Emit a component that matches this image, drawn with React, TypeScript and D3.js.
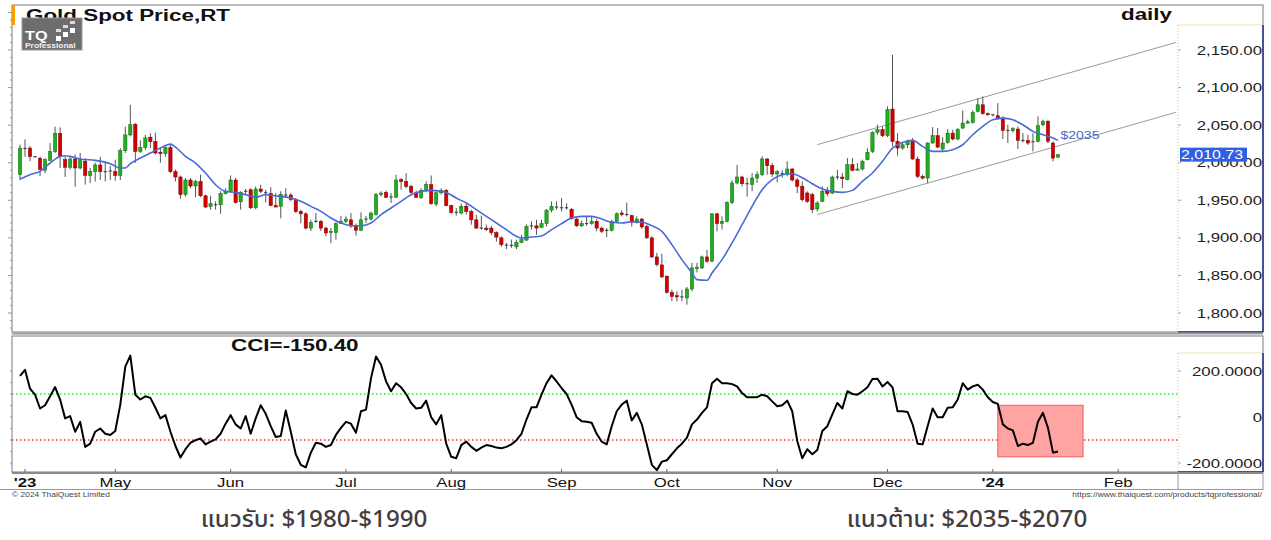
import React from 'react'
import * as d3 from 'd3'

// daily candles, Apr 2023 .. 18 Jan 2024
const opens = [
  1984, 2019, 2019.5, 2008, 2006, 1990, 2003, 2015, 2039, 2004, 1994, 2005, 1993, 2002, 1983, 1988, 1997, 1988, 1988, 1988,
  1983, 2016, 2037, 2051, 2015, 2020, 2034, 2028, 2014, 2012, 2020, 1988, 1981, 1957.5, 1977, 1969, 1975, 1956, 1941.5, 1944,
  1944, 1959, 1962, 1977, 1948, 1962, 1964, 1940, 1965, 1960, 1959, 1943, 1942, 1957, 1957, 1951, 1935, 1932, 1913, 1922,
  1922, 1913, 1907, 1907, 1919, 1922, 1924, 1916, 1910, 1924, 1925, 1931, 1957.5, 1960.5, 1954, 1954, 1977.4, 1975, 1968.5, 1960,
  1954, 1963, 1970.7, 1945, 1960, 1963, 1943, 1934, 1933, 1942, 1935, 1924, 1913, 1913, 1913, 1907, 1900, 1890.4, 1890, 1888,
  1894, 1897, 1916, 1916, 1914, 1919, 1937, 1941, 1940, 1940, 1938, 1925, 1916, 1919, 1919, 1922, 1913, 1910, 1910, 1922,
  1933, 1931, 1929.5, 1920.6, 1925, 1915, 1900, 1874.6, 1864, 1849, 1827.6, 1823, 1821.5, 1820, 1832, 1859, 1860, 1874.6, 1869, 1932,
  1919, 1922, 1947, 1973, 1981, 1972, 1971, 1979.6, 1984, 2005, 1996, 1985, 1985.4, 1985, 1991.6, 1977, 1968.5, 1959.7, 1957.4, 1938.4,
  1948.6, 1961.9, 1959.7, 1980.9, 1980.9, 1977.4, 1997.3, 1990, 1991.6, 2004, 2015.1, 2040.3, 2043.9, 2035.9, 2071.4, 2028.4, 2019.5, 2023.9, 2028.4, 2004.9,
  1981.8, 1979.6, 2026.2, 2035.9, 2018.2, 2027, 2039.4, 2031.5, 2046.1, 2052.7, 2053.6, 2068.3, 2077.1, 2065.2, 2063.8, 2062.5, 2059.4, 2043, 2042.6, 2044.8,
  2029.7, 2029.7, 2027, 2028.4, 2050.5, 2055, 2026.2, 2007.5,
]
const highs = [
  2024, 2031, 2022, 2009, 2008, 2006, 2026, 2048, 2047, 2008, 2008, 2011, 2013, 2006, 1993, 2000, 2008, 2002, 1996, 2004,
  2019.5, 2048, 2077, 2053, 2030, 2037, 2039, 2040, 2019.5, 2022, 2024, 1991, 1983, 1979.6, 1979.6, 1977, 1984, 1957.5, 1956, 1948.6,
  1962, 1966, 1983, 1979.6, 1962, 1965, 1966, 1968.5, 1970.7, 1964, 1967.6, 1959.6, 1962, 1966, 1959.6, 1953, 1937.5, 1934, 1924, 1933,
  1924, 1915, 1913, 1920.6, 1929, 1928.6, 1933, 1919, 1934, 1929, 1935, 1959.6, 1962, 1963, 1959.6, 1984, 1979.6, 1986, 1970.7, 1963,
  1966, 1975, 1983, 1962, 1966, 1965, 1944, 1939.6, 1945.5, 1946.6, 1937.5, 1930.6, 1929.5, 1917.5, 1916, 1908.7, 1902, 1893, 1897.6, 1897.6,
  1904, 1918, 1922, 1924, 1924, 1938.4, 1948.6, 1948.6, 1953, 1946, 1939.7, 1926.4, 1923, 1928.6, 1928.6, 1925, 1915, 1913, 1924, 1934,
  1936.6, 1947, 1931, 1928.6, 1926.4, 1917.5, 1902, 1880, 1879, 1850, 1831, 1828.6, 1831, 1834.7, 1866.6, 1866.6, 1876.4, 1884, 1933, 1933,
  1928.6, 1948.6, 1976.5, 1997, 1982.7, 1980, 1986, 1988.5, 2008.4, 2006, 1999.6, 1990, 1990, 2002, 1993, 1979.6, 1975.2, 1962, 1959.7, 1948.6,
  1968.5, 1967.6, 1982.7, 1990.7, 1986.3, 2006.2, 2006.2, 1999.6, 2004, 2019.5, 2041.7, 2050.5, 2048.3, 2074.9, 2143.6, 2039.4, 2026.2, 2030.6, 2032.8, 2008.4,
  1984, 2027, 2047.4, 2046.1, 2034.1, 2044.8, 2043.9, 2046.1, 2069.6, 2057.2, 2069.6, 2086, 2088.2, 2066.9, 2063.8, 2079.3, 2061.6, 2050.5, 2047.4, 2048.3,
  2039.4, 2037.2, 2039.4, 2061.6, 2057.2, 2057.2, 2028.4, 2011.5,
]
const lows = [
  1977, 2008, 2002, 2007, 1982, 1986, 2002, 2013, 1993, 1981, 1991, 1968, 1991, 1971, 1973, 1975, 1977, 1975, 1977, 1976,
  1977, 2013, 2035, 2000, 2013, 2017, 2019.5, 2010.6, 2000, 2008, 1986, 1975, 1952, 1955, 1966, 1954, 1954, 1939.7, 1937.5, 1937.5,
  1932, 1957.5, 1960, 1945.6, 1937.5, 1957.5, 1938.4, 1938, 1959.6, 1947, 1942, 1941, 1926, 1953, 1948.6, 1933, 1919.5, 1911, 1909, 1920,
  1909, 1902, 1893, 1897.6, 1918.9, 1920, 1913, 1903, 1909, 1920, 1923, 1929.5, 1955, 1953, 1946.4, 1953, 1964, 1966, 1958.7, 1953,
  1951.7, 1960.6, 1944, 1942, 1957.5, 1942, 1932, 1929.5, 1931, 1931, 1917.5, 1912, 1911, 1909, 1904, 1895, 1888, 1885, 1886.7, 1885,
  1893, 1896, 1911, 1904, 1913, 1915, 1934, 1937.5, 1935, 1937.5, 1924, 1914.5, 1914.5, 1916, 1917.5, 1908.7, 1906.5, 1901, 1908.7, 1920.6,
  1928.6, 1928.6, 1915, 1919, 1912, 1898.5, 1873, 1862, 1846.6, 1825.8, 1815.6, 1815.6, 1815.6, 1811, 1829, 1854, 1858.6, 1866.6, 1867.5, 1908.7,
  1911, 1920.6, 1945, 1971, 1968.5, 1955, 1962, 1973, 1982, 1984, 1981, 1974, 1980, 1982, 1975, 1959.6, 1948.6, 1946.4, 1933, 1935.3,
  1947.3, 1955.2, 1958.3, 1977.4, 1966.3, 1976.5, 1988.5, 1989.8, 1989.8, 2003.1, 2012.9, 2037.2, 2034.1, 2034.1, 2021.7, 2009.3, 2017.3, 2019.5, 2004, 1979.6,
  1977.4, 1973, 2025.3, 2019.5, 2015.1, 2025.3, 2029.7, 2029.7, 2044.8, 2051.9, 2051.9, 2066.9, 2063.8, 2062.5, 2061.6, 2057.2, 2031.5, 2026.2, 2040.3, 2018.2,
  2027, 2023.9, 2015.1, 2027, 2048.3, 2026.2, 2001.8, 2006,
]
const closes = [
  2019.5, 2019, 2008, 2008, 1991, 2004, 2015, 2039, 2008, 1994, 2005, 1993, 2004, 1983, 1988, 1997, 1988, 1988, 1989, 1983,
  2016, 2037, 2050.5, 2015, 2020, 2033, 2028, 2013, 2012, 2020, 1988, 1981, 1957.5, 1977, 1969, 1975, 1956, 1941, 1945.5, 1944,
  1959, 1962, 1977, 1947, 1960.5, 1962, 1940, 1965, 1962, 1959.6, 1943, 1941, 1958, 1957, 1951, 1935, 1932, 1913, 1920.6, 1922,
  1913, 1906.5, 1908.7, 1919, 1922, 1925, 1916, 1910, 1924, 1925, 1933, 1957.5, 1959.6, 1954, 1954.4, 1977, 1975, 1968.5, 1960.5, 1954,
  1963, 1970.7, 1945.5, 1960, 1963, 1943, 1934, 1934, 1942, 1935, 1924, 1913, 1913, 1911, 1907, 1901, 1891, 1889.6, 1890, 1894,
  1897.6, 1915, 1916, 1913, 1919, 1936.6, 1942, 1941, 1939.7, 1939, 1926, 1916, 1919, 1919, 1922, 1913, 1908.7, 1910, 1922, 1932,
  1931, 1931, 1920.6, 1925, 1914.5, 1900, 1874.6, 1864.4, 1848, 1827.6, 1822, 1821.4, 1821.5, 1832, 1860, 1861, 1874.6, 1869, 1932, 1919,
  1922, 1947, 1973, 1981, 1972, 1972, 1979.6, 1984, 2005, 1996, 1985, 1988, 1985.4, 1991.6, 1977, 1968.5, 1950.8, 1948.6, 1937.5, 1946.4,
  1961.9, 1958.8, 1980.9, 1980.5, 1978.7, 1997.3, 1989.8, 1991.6, 2001.8, 2013.7, 2040.3, 2043.9, 2035.9, 2070.5, 2028.4, 2019.5, 2023.9, 2028.4, 2004.9, 1981.8,
  1979.6, 2026.2, 2035.9, 2020.8, 2026.2, 2039.4, 2031.5, 2043.9, 2052.7, 2054.5, 2066.9, 2077.1, 2065.2, 2063.8, 2062.5, 2059.4, 2043, 2042.6, 2045.2, 2029.7,
  2029.3, 2026.2, 2027.9, 2049.2, 2055, 2028.4, 2006.2, 2010.73,
]

// blue moving average, read at every other bar
const maIdx = [
  0, 2, 4, 6, 8, 9, 10, 12, 15, 18, 20, 21, 22, 24, 26, 28, 30, 31, 33, 35, 37, 39, 41, 43, 45, 47, 49, 51, 54, 56,
  58, 60, 62, 64, 66, 68, 70, 72, 74, 76, 78, 80, 82, 84, 85, 87, 89, 91, 93, 95, 97, 99, 100, 102, 104, 106, 108, 110, 112, 114,
  116, 118, 120, 122, 124, 126, 128, 130, 132, 134, 135, 137, 138, 140, 142, 144, 146, 148, 150, 152, 154, 156, 158, 160, 162, 164, 166, 168, 170, 172,
  174, 176, 178, 180, 182, 184, 186, 188, 190, 192, 194, 196, 198, 200, 202, 204, 206, 207,
]
const maVal = [
  1978.3, 1984, 1988.5, 1999.6, 2008.4, 2009.3, 2008.4, 2004.9, 2003.1, 1998.7, 1992.9, 1992.9, 1998.7, 2006.2, 2012.9, 2019.5, 2024.8, 2020.8, 2008.4, 1999.6,
  1986.3, 1970.7, 1961.9, 1960.5, 1957.4, 1954.3, 1957.4, 1956, 1953, 1948.6,
  1941.9, 1935.3, 1926.4, 1919.8, 1916.2, 1916.2, 1919.8, 1930.9, 1939.7, 1948.6, 1957.4, 1961.9, 1963.2, 1961.9, 1960.5, 1953, 1946.4, 1937.5, 1928.6, 1919.8,
  1910.9, 1902, 1899.8, 1901.2, 1902.5, 1910.9, 1918.9, 1926.4, 1928.6, 1928.6,
  1925.1, 1920.7, 1919.8, 1921.5, 1920.7, 1916.2, 1908.7, 1891, 1871, 1853.3, 1844.4, 1843.5, 1853.3, 1871, 1893.2, 1917.5, 1941.9, 1964.1, 1977.4, 1984,
  1985.4, 1980, 1972, 1965, 1961.9, 1960.5, 1963.2, 1975.2, 1986.3, 2001.8,
  2019.5, 2027, 2029.7, 2021.7, 2015.1, 2015.1, 2017.3, 2023.9, 2037.2, 2048.3, 2057.2, 2059.4, 2057.2, 2050.5, 2041.7, 2037.2, 2032.8, 2029.7,
]

const cci = [
  179, 205, 123, 97, 37, 51, 90, 130, 76, -6, 4, -64, -21, -130, -116, -64, -50, -73, -78, -61,
  54, 219, 267, 97, 76, 90, 83, 40, -6, 8, -64, -126, -176, -140, -112, -101, -93, -119, -107, -97,
  -73, -29, 8, -32, -50, 4, -73, -6, 51, 14, -40, -87, -83, 28, -64, -162, -208, -219, -155, -112,
  -116, -130, -122, -78, -47, -21, -29, -68, 25, 32, 169, 263, 227, 155, 112, 147, 129, 100, 61, 37,
  40, 71, -1, -32, 8, -116, -173, -179, -122, -107, -130, -147, -133, -122, -126, -133, -136, -130, -119, -101,
  -73, -11, 42, 42, 97, 147, 181, 155, 126, 100, 54, -1, -18, -21, -25, -73, -107, -119, -40, 25,
  54, 71, -15, 18, -32, -119, -208, -231, -194, -188, -162, -136, -116, -90, -32, -11, 18, 42, 147, 166,
  147, 147, 143, 133, 104, 86, 86, 86, 97, 90, 68, 47, 51, 71, 25, -104, -179, -140, -162, -143,
  -61, -40, 11, 61, 37, 112, 100, 97, 112, 129, 165, 166, 133, 152, 129, 25, 25, 22, -32, -116,
  -119, -40, 37, -1, -1, 40, 42, 76, 147, 119, 133, 140, 119, 86, 65, 57, -32, -50, -58, -126,
  -116, -122, -112, -21, 18, -47, -155, -150.4,
]

const priceTicks = [1800, 1850, 1900, 1950, 2000, 2050, 2100, 2150]
const cciTicks = [-200, 0, 200]
const cciLevels = [100, -100]
const monthLabels = ["'23", 'May', 'Jun', 'Jul', 'Aug', 'Sep', 'Oct', 'Nov', 'Dec', "'24", 'Feb']
const monthIdx = [1, 19, 42, 65, 86, 108, 129, 151, 173, 194, 219]
const yearLabels = ["'23", "'24"]

// trend channel
const channelIdx = [159, 230.5]
const channelUpper = [2024, 2160]
const channelLower = [1931, 2067]

// highlight box on CCI
const boxIdx = [195, 212]
const boxCci = [51, -173]

const lastPrice = 2010.73
const maNote = '$2035'
const maNoteAt = { idx: 207.5, price: 2037 }

const supportNote = 'แนวรับ: $1980-$1990'
const resistNote = 'แนวต้าน: $2035-$2070'

const FONT = 'Liberation Sans, Arial, Helvetica, sans-serif'
const THAI = "'Noto Sans Thai', 'Noto Sans', sans-serif"
const SX = 1.4 // the source screenshot is stretched sideways

const T = ({ x, y, size, anchor = 'start', weight = 'normal', fill = '#111', sx = SX, family = FONT, children }: any) => (
  <text
    transform={`translate(${x},${y}) scale(${sx},1)`}
    fontFamily={family}
    fontSize={size}
    fontWeight={weight}
    fill={fill}
    textAnchor={anchor}
  >
    {children}
  </text>
)

const App = () => {
  const W = 1271
  const H = 540
  const left = 12
  const plotRight = 1178
  const right = 1263
  const mainTop = 5
  const mainBottom = 332
  const cciTop = 336
  const cciBottom = 472

  const x = d3.scaleLinear().domain([0, closes.length - 1]).range([20, 1058])
  const yP = d3.scaleLinear().domain([1800, 2150]).range([313, 50])
  const yC = d3.scaleLinear().domain([-200, 200]).range([463, 371])
  const bw = 3.3

  const maLine = d3
    .line<number>()
    .x((d, i) => x(maIdx[i]))
    .y(d => yP(d))
    .curve(d3.curveMonotoneX)

  const cciLine = d3
    .line<number>()
    .x((d, i) => x(i))
    .y(d => yC(d))

  const fmtP = d3.format(',.2f')
  const fmtC = (v: number) => (v === 0 ? '0' : d3.format('.4f')(v).replace('\u2212', '-'))
  const cciNow = d3.format('.2f')(cci[cci.length - 1]).replace('\u2212', '-')

  const minorTicks = d3.range(1780, 2210, 10)

  return (
    <svg width={W} height={H} style={{ position: 'absolute', left: 0, top: 0 }}>
      <defs>
        <clipPath id="mainClip">
          <rect x={left} y={mainTop} width={plotRight - left} height={mainBottom - mainTop} />
        </clipPath>
        <clipPath id="cciClip">
          <rect x={left} y={cciTop} width={plotRight - left} height={cciBottom - cciTop} />
        </clipPath>
      </defs>
      <rect width={W} height={H} fill="#fff" />

      {/* ---------- main panel ---------- */}
      <rect x={left} y={mainTop} width={right - left} height={mainBottom - mainTop} fill="none" stroke="#7a7a7a" />
      <rect x={left} y={mainTop} width={3} height={20} fill="#f5a000" />
      {minorTicks.map(v => (
        <line key={v} x1={left - (v % 50 === 0 ? 4 : 2)} x2={left} y1={yP(v)} y2={yP(v)} stroke="#999" />
      ))}

      <g clipPath="url(#mainClip)">
        {/* channel */}
        <line x1={x(channelIdx[0])} x2={x(channelIdx[1])} y1={yP(channelUpper[0])} y2={yP(channelUpper[1])} stroke="#9a9a9a" />
        <line x1={x(channelIdx[0])} x2={x(channelIdx[1])} y1={yP(channelLower[0])} y2={yP(channelLower[1])} stroke="#9a9a9a" />

        {closes.map((c, i) => {
          const o = opens[i]
          const up = c >= o
          const top = yP(Math.max(o, c))
          const bot = yP(Math.min(o, c))
          const h = bot - top
          return (
            <g key={i}>
              <line x1={x(i)} x2={x(i)} y1={yP(highs[i])} y2={yP(lows[i])} stroke="#555" strokeWidth={1} />
              {h < 1 ? (
                <line x1={x(i) - bw / 2} x2={x(i) + bw / 2} y1={top} y2={top} stroke="#333" strokeWidth={1} />
              ) : (
                <rect
                  x={x(i) - bw / 2}
                  y={top}
                  width={bw}
                  height={h}
                  fill={up ? '#1fae1f' : '#d40000'}
                  stroke={up ? '#0e6a0e' : '#7a0000'}
                  strokeWidth={0.5}
                />
              )}
            </g>
          )
        })}

        <path d={maLine(maVal) || ''} fill="none" stroke="#4a6ad8" strokeWidth={1.6} />
      </g>
      <T x={x(maNoteAt.idx)} y={yP(maNoteAt.price) + 4} size={10} fill="#4a64c8">
        {maNote}
      </T>

      <T x={26} y={21} size={16} weight="bold">Gold Spot Price,RT</T>
      <T x={1172} y={20} size={16} weight="bold" anchor="end">daily</T>

      {/* logo */}
      <rect x={22} y={18} width={60} height={32} fill="#6d6d6d" stroke="#9a9a9a" />
      <T x={25} y={40} size={13} weight="bold" fill="#fff" sx={1.25}>TQ</T>
      {[0, 1, 2].map(k => (
        <g key={k}>
          <rect x={56 + k * 7} y={36 - k * 4} width={5} height={5} fill="#fff" />
          <rect x={56 + k * 7} y={29 - k * 4} width={5} height={3} fill="#dcdcdc" />
        </g>
      ))}
      <T x={25} y={48} size={6.5} weight="bold" fill="#f0f0f0" sx={1.3}>Professional</T>

      {/* price axis panel */}
      <line x1={plotRight} x2={plotRight} y1={25} y2={mainBottom} stroke="#d9c58f" strokeDasharray="1,2" />
      <line x1={plotRight} x2={right} y1={25} y2={25} stroke="#efe2bd" />
      <line x1={right} x2={right} y1={25} y2={mainBottom} stroke="#1f2f86" strokeWidth={1.5} />
      <line x1={plotRight} x2={right} y1={mainBottom} y2={mainBottom} stroke="#1f2f86" strokeWidth={1.5} />
      {priceTicks.map(v => (
        <g key={v}>
          <line x1={plotRight} x2={plotRight + 3} y1={yP(v)} y2={yP(v)} stroke="#b8a87a" />
          <T x={1262} y={yP(v) + 4.5} size={12} anchor="end" fill="#222">
            {fmtP(v)}
          </T>
        </g>
      ))}
      <rect x={plotRight + 2} y={yP(lastPrice) - 7} width={67} height={14} fill="#2f5fe3" />
      <T x={plotRight + 3} y={yP(lastPrice) + 4.5} size={12} fill="#fff" sx={1.33}>
        {fmtP(lastPrice)}
      </T>

      {/* ---------- CCI panel ---------- */}
      <line x1={left} x2={right} y1={333.5} y2={333.5} stroke="#9a9a9a" strokeWidth={2} />
      <rect x={left} y={cciTop} width={right - left} height={cciBottom - cciTop} fill="none" stroke="#7a7a7a" />
      <g clipPath="url(#cciClip)">
        {cciLevels.map(v => (
          <line
            key={v}
            x1={left}
            x2={plotRight}
            y1={yC(v)}
            y2={yC(v)}
            stroke={v > 0 ? '#2ee62e' : '#f03a3a'}
            strokeWidth={1.5}
            strokeDasharray="1.5,2.5"
          />
        ))}
        <rect
          x={x(boxIdx[0])}
          y={yC(boxCci[0])}
          width={x(boxIdx[1]) - x(boxIdx[0])}
          height={yC(boxCci[1]) - yC(boxCci[0])}
          fill="#ffa3a3"
          stroke="#f25a5a"
        />
        <path d={cciLine(cci) || ''} fill="none" stroke="#000" strokeWidth={2} strokeLinejoin="round" />
      </g>
      {d3.range(-200, 201, 50).map(v => (
        <line key={v} x1={left - 2} x2={left} y1={yC(v)} y2={yC(v)} stroke="#999" />
      ))}
      <T x={231} y={351} size={16} weight="bold">
        {`CCI=${cciNow}`}
      </T>

      <line x1={plotRight} x2={plotRight} y1={353} y2={cciBottom} stroke="#d9c58f" strokeDasharray="1,2" />
      <line x1={plotRight} x2={right} y1={353} y2={353} stroke="#efe2bd" />
      <line x1={right} x2={right} y1={353} y2={cciBottom} stroke="#1f2f86" strokeWidth={1.5} />
      <line x1={plotRight} x2={right} y1={cciBottom} y2={cciBottom} stroke="#1f2f86" strokeWidth={1.5} />
      {cciTicks.map(v => (
        <g key={v}>
          <line x1={plotRight} x2={plotRight + 3} y1={yC(v)} y2={yC(v)} stroke="#b8a87a" />
          <T x={1262} y={yC(v) + 4.5} size={12} anchor="end" fill="#222">
            {fmtC(v)}
          </T>
        </g>
      ))}

      {/* ---------- time axis ---------- */}
      <line x1={left} x2={right} y1={cciBottom + 1} y2={cciBottom + 1} stroke="#8a8a8a" strokeWidth={2} />
      <line x1={0} x2={right} y1={489.5} y2={489.5} stroke="#9a9a9a" />
      <line x1={plotRight} x2={plotRight} y1={cciBottom} y2={490} stroke="#9a9a9a" />
      <line x1={right} x2={right} y1={cciBottom} y2={490} stroke="#9a9a9a" />
      {monthLabels.map((m, k) => (
        <g key={m}>
          <line x1={x(monthIdx[k])} x2={x(monthIdx[k])} y1={cciBottom} y2={cciBottom - 3} stroke="#666" />
          <T
            x={x(monthIdx[k])}
            y={487}
            size={12}
            anchor="middle"
            weight={yearLabels.includes(m) ? 'bold' : 'normal'}
            fill="#111"
          >
            {m}
          </T>
        </g>
      ))}
      <T x={12} y={497} size={6.5} fill="#444" sx={1.3}>© 2024 ThaiQuest Limited</T>
      <T x={1262} y={497} size={6.5} fill="#444" sx={1.3} anchor="end">
        https://www.thaiquest.com/products/tqprofessional/
      </T>

      {/* support / resistance notes */}
      <T x={314} y={527} size={23} anchor="middle" weight={500} fill="#463d3f" sx={1.05} family={THAI}>
        {supportNote}
      </T>
      <T x={967} y={527} size={23} anchor="middle" weight={500} fill="#463d3f" sx={1.05} family={THAI}>
        {resistNote}
      </T>
    </svg>
  )
}

export default App
